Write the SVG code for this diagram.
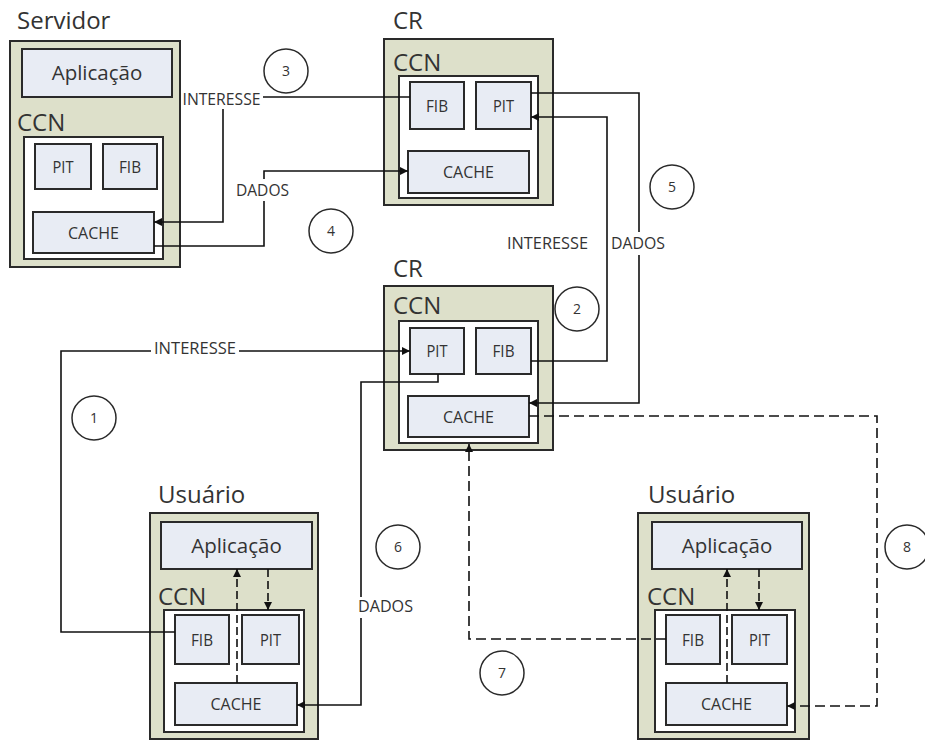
<svg xmlns="http://www.w3.org/2000/svg" width="925" height="740" viewBox="0 0 925 740">
  <defs>
    <style>
      .outer { fill: #dde0ca; stroke: #2a2a2a; stroke-width: 2; }
      .inner { fill: #ffffff; stroke: #2a2a2a; stroke-width: 2; }
      .box { fill: #e8ecf4; stroke: #2a2a2a; stroke-width: 2; }
      .head { font-family: "Open Sans", "Noto Sans", sans-serif; font-size: 24px; fill: #333; }
      .app { font-family: "Open Sans", "Noto Sans", sans-serif; font-size: 20.5px; fill: #333; text-anchor: middle; }
      .cell { font-family: "Open Sans", "Noto Sans", sans-serif; font-size: 16.5px; fill: #333; text-anchor: middle; }
      .lbl { font-family: "Open Sans", "Noto Sans", sans-serif; font-size: 16px; fill: #333; text-anchor: middle; }
      .num { font-family: "Open Sans", "Noto Sans", sans-serif; font-size: 14px; fill: #333; text-anchor: middle; }
      .ring { fill: #ffffff; stroke: #2a2a2a; stroke-width: 1.5; }
      .wire { fill: none; stroke: #111; stroke-width: 1.6; }
      .dash { fill: none; stroke: #111; stroke-width: 1.6; stroke-dasharray: 10 5; }
      .dash-s { fill: none; stroke: #111; stroke-width: 1.6; stroke-dasharray: 8 4; }
      .bg { fill: #ffffff; }
    </style>
    <marker id="arrow" viewBox="0 0 10 10" refX="10" refY="5" markerWidth="9" markerHeight="8" markerUnits="userSpaceOnUse" orient="auto">
      <path d="M0,0 L10,5 L0,10 z" fill="#111"/>
    </marker>
  </defs>

  <rect width="925" height="740" fill="#ffffff"/>

  <!-- Server -->
  <g id="servidor">
    <text class="head" x="17" y="29">Servidor</text>
    <rect class="outer" x="10" y="41" width="170" height="226"/>
    <rect class="box" x="22" y="49" width="150" height="48"/>
    <text class="app" x="97" y="80">Aplicação</text>
    <text class="head" x="17" y="131">CCN</text>
    <rect class="inner" x="24" y="137" width="139" height="122"/>
    <rect class="box" x="35" y="144" width="56" height="45"/>
    <text class="cell" x="63" y="172.5" textLength="21" lengthAdjust="spacingAndGlyphs">PIT</text>
    <rect class="box" x="103" y="144" width="54" height="45"/>
    <text class="cell" x="130" y="172.5" textLength="22" lengthAdjust="spacingAndGlyphs">FIB</text>
    <rect class="box" x="33" y="212" width="121" height="41"/>
    <text class="cell" x="93.5" y="238.5" textLength="51" lengthAdjust="spacingAndGlyphs">CACHE</text>
  </g>

  <!-- Router, top -->
  <g id="cr-top">
    <text class="head" x="393" y="29">CR</text>
    <rect class="outer" x="384" y="39" width="169" height="166"/>
    <text class="head" x="393" y="71">CCN</text>
    <rect class="inner" x="399" y="76" width="139" height="122"/>
    <rect class="box" x="410" y="82" width="54" height="47"/>
    <text class="cell" x="437" y="111.5" textLength="22" lengthAdjust="spacingAndGlyphs">FIB</text>
    <rect class="box" x="476" y="82" width="55" height="47"/>
    <text class="cell" x="503.5" y="111.5" textLength="21" lengthAdjust="spacingAndGlyphs">PIT</text>
    <rect class="box" x="408" y="151" width="121" height="42"/>
    <text class="cell" x="468.5" y="178" textLength="51" lengthAdjust="spacingAndGlyphs">CACHE</text>
  </g>

  <!-- Router, middle -->
  <g id="cr-mid">
    <text class="head" x="393" y="277">CR</text>
    <rect class="outer" x="384" y="286" width="169" height="164"/>
    <text class="head" x="393" y="314">CCN</text>
    <rect class="inner" x="399" y="321" width="139" height="122"/>
    <rect class="box" x="410" y="328" width="54" height="46"/>
    <text class="cell" x="437" y="357" textLength="21" lengthAdjust="spacingAndGlyphs">PIT</text>
    <rect class="box" x="476" y="328" width="55" height="46"/>
    <text class="cell" x="503.5" y="357" textLength="22" lengthAdjust="spacingAndGlyphs">FIB</text>
    <rect class="box" x="408" y="396" width="121" height="41"/>
    <text class="cell" x="468.5" y="422.5" textLength="51" lengthAdjust="spacingAndGlyphs">CACHE</text>
  </g>

  <!-- User, left -->
  <g id="usuario-esq">
    <text class="head" x="158" y="503">Usuário</text>
    <rect class="outer" x="150" y="513" width="168" height="226"/>
    <rect class="box" x="161" y="522" width="151" height="47"/>
    <text class="app" x="236.5" y="553">Aplicação</text>
    <text class="head" x="158" y="605">CCN</text>
    <rect class="inner" x="164" y="610" width="140" height="122"/>
    <rect class="box" x="175" y="615" width="54" height="49"/>
    <text class="cell" x="202" y="645.5" textLength="22" lengthAdjust="spacingAndGlyphs">FIB</text>
    <rect class="box" x="242" y="615" width="57" height="49"/>
    <text class="cell" x="270.5" y="645.5" textLength="21" lengthAdjust="spacingAndGlyphs">PIT</text>
    <rect class="box" x="175" y="683" width="122" height="42"/>
    <text class="cell" x="236" y="710" textLength="51" lengthAdjust="spacingAndGlyphs">CACHE</text>
  </g>

  <!-- User, right -->
  <g id="usuario-dir">
    <text class="head" x="648" y="503">Usuário</text>
    <rect class="outer" x="638" y="513" width="171" height="226"/>
    <rect class="box" x="652" y="522" width="150" height="47"/>
    <text class="app" x="727" y="553">Aplicação</text>
    <text class="head" x="647" y="605">CCN</text>
    <rect class="inner" x="655" y="610" width="140" height="122"/>
    <rect class="box" x="666" y="615" width="54" height="49"/>
    <text class="cell" x="693" y="645.5" textLength="22" lengthAdjust="spacingAndGlyphs">FIB</text>
    <rect class="box" x="732" y="615" width="55" height="49"/>
    <text class="cell" x="759.5" y="645.5" textLength="21" lengthAdjust="spacingAndGlyphs">PIT</text>
    <rect class="box" x="666" y="683" width="121" height="42"/>
    <text class="cell" x="726.5" y="710" textLength="51" lengthAdjust="spacingAndGlyphs">CACHE</text>
  </g>

  <!-- Connectors -->
  <g id="connectors">
    <!-- 1: user FIB to middle router PIT -->
    <path class="wire" d="M175,632 H61 V351 H410" marker-end="url(#arrow)"/>
    <!-- 2: middle router FIB to top router PIT -->
    <path class="wire" d="M531,361 H607 V117 H531" marker-end="url(#arrow)"/>
    <!-- 3: top router FIB to server cache -->
    <path class="wire" d="M410,97 H223 V222 H154" marker-end="url(#arrow)"/>
    <!-- 4: server cache to top router cache -->
    <path class="wire" d="M154,246 H264 V171 H408" marker-end="url(#arrow)"/>
    <!-- 5: top router PIT to middle router cache -->
    <path class="wire" d="M531,93 H639 V403 H529" marker-end="url(#arrow)"/>
    <!-- 6: middle router PIT to user cache -->
    <path class="wire" d="M438,374 V382 H361 V705 H297" marker-end="url(#arrow)"/>
    <!-- 7: right user FIB to middle router -->
    <path class="dash" d="M666,639 H469 V444" marker-end="url(#arrow)"/>
    <!-- 8: middle router cache to right user cache -->
    <path class="dash" d="M529,416 H877 V706 H787" marker-end="url(#arrow)"/>
    <!-- inside the user nodes -->
    <path class="dash-s" d="M237,683 V569" marker-end="url(#arrow)"/>
    <path class="dash-s" d="M268,569 V610" marker-end="url(#arrow)"/>
    <path class="dash-s" d="M727,683 V569" marker-end="url(#arrow)"/>
    <path class="dash-s" d="M759,569 V610" marker-end="url(#arrow)"/>
  </g>

  <!-- Connector labels -->
  <g id="labels">
    <rect class="bg" x="151" y="341" width="88" height="15"/>
    <text class="lbl" x="195" y="353.5" textLength="82" lengthAdjust="spacingAndGlyphs">INTERESSE</text>
    <text class="lbl" x="547.5" y="249" textLength="81" lengthAdjust="spacingAndGlyphs">INTERESSE</text>
    <rect class="bg" x="181" y="91" width="82" height="18"/>
    <text class="lbl" x="221.5" y="105" textLength="78" lengthAdjust="spacingAndGlyphs">INTERESSE</text>
    <rect class="bg" x="234" y="179" width="57" height="22"/>
    <text class="lbl" x="262.5" y="196" textLength="53" lengthAdjust="spacingAndGlyphs">DADOS</text>
    <rect class="bg" x="609" y="232" width="58" height="23"/>
    <text class="lbl" x="638" y="249" textLength="54" lengthAdjust="spacingAndGlyphs">DADOS</text>
    <rect class="bg" x="356" y="597" width="59" height="21"/>
    <text class="lbl" x="385.5" y="612" textLength="55" lengthAdjust="spacingAndGlyphs">DADOS</text>
  </g>

  <!-- Step numbers -->
  <g id="steps">
    <circle class="ring" cx="94" cy="418" r="22"/><text class="num" x="94" y="423">1</text>
    <circle class="ring" cx="577" cy="309" r="22"/><text class="num" x="577" y="314">2</text>
    <circle class="ring" cx="286" cy="71" r="22"/><text class="num" x="286" y="76">3</text>
    <circle class="ring" cx="331" cy="231" r="22"/><text class="num" x="331" y="236">4</text>
    <circle class="ring" cx="672" cy="187" r="22"/><text class="num" x="672" y="192">5</text>
    <circle class="ring" cx="398" cy="547" r="22"/><text class="num" x="398" y="552">6</text>
    <circle class="ring" cx="502" cy="673" r="22"/><text class="num" x="502" y="678">7</text>
    <circle class="ring" cx="907" cy="547" r="22"/><text class="num" x="907" y="552">8</text>
  </g>
</svg>
